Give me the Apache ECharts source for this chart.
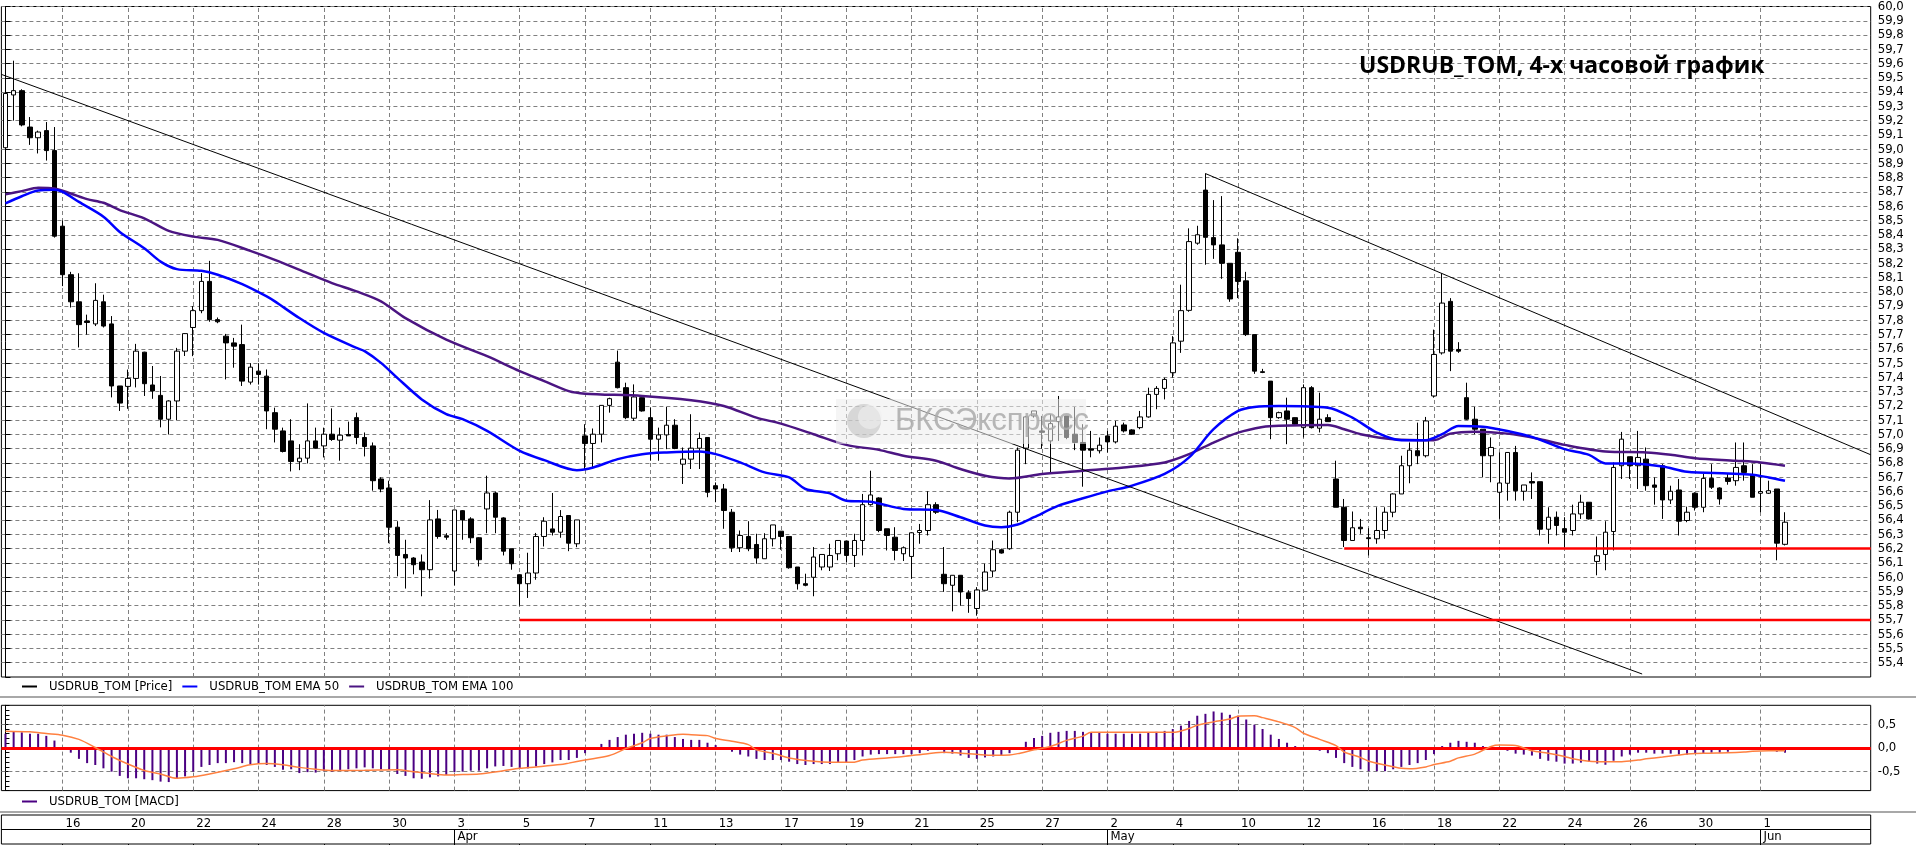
<!DOCTYPE html>
<html><head><meta charset="utf-8">
<script src="https://cdn.jsdelivr.net/npm/echarts@6/dist/echarts.min.js"></script>
<style>html,body{margin:0;padding:0;background:#fff;overflow:hidden}#c{width:1916px;height:845px}</style>
</head><body><div id="c"></div>
<script>
// ---------- DATA ----------
const opens = [
59.01,59.38,59.41,59.155,59.08,59.13,58.99,58.46,58.12,57.93,
57.795,57.775,57.93,57.775,57.34,57.337,57.393,57.577,57.347,57.274,
57.107,57.235,57.584,57.75,57.868,58.073,57.805,57.689,57.642,57.63,
57.367,57.444,57.409,57.153,57.025,56.955,56.809,56.834,56.955,56.92,
57.002,56.96,57.0,57.118,56.979,56.92,56.688,56.625,56.35,56.159,
56.134,56.106,56.052,56.408,56.29,56.043,56.466,56.408,56.276,56.478,
56.59,56.415,56.199,56.017,55.954,56.029,56.285,56.338,56.315,56.432,
56.234,56.99,56.937,57.002,57.204,57.507,57.328,57.114,57.258,57.118,
56.967,56.997,57.065,56.792,56.827,56.904,56.979,56.641,56.618,56.455,
56.206,56.285,56.229,56.129,56.269,56.322,56.285,56.071,55.954,55.999,
56.071,56.071,56.164,56.253,56.152,56.257,56.508,56.555,56.339,56.28,
56.164,56.145,56.313,56.327,56.508,56.02,55.943,56.013,55.89,55.78,
55.908,56.043,56.192,56.199,56.455,56.904,57.13,57.025,56.955,57.09,
57.13,57.002,56.944,56.9,56.886,56.99,56.948,57.067,57.032,57.048,
57.123,57.281,57.323,57.433,57.654,57.87,58.341,58.713,58.38,58.329,
58.2,58.277,58.077,57.70,57.44,57.374,57.118,57.165,57.118,57.048,
57.328,57.044,57.118,56.688,56.49,56.257,56.35,56.276,56.269,56.327,
56.455,56.583,56.781,56.886,56.851,57.27,57.572,57.933,57.596,57.258,
57.107,57.037,56.851,56.595,56.658,56.874,56.602,56.67,56.669,56.336,
56.42,56.34,56.327,56.443,56.525,56.11,56.159,56.32,56.781,56.844,
56.781,56.827,56.646,56.781,56.541,56.611,56.397,56.588,56.49,56.692,
56.625,56.695,56.676,56.781,56.718,56.588,56.588,56.618,56.23];
const closes = [
59.39,59.41,59.17,59.08,59.12,58.99,58.39,58.12,57.93,57.77,
57.785,57.94,57.76,57.34,57.22,57.393,57.584,57.356,57.305,57.107,
57.235,57.584,57.707,57.868,58.073,57.805,57.79,57.642,57.619,57.374,
57.472,57.421,57.165,57.037,56.881,56.811,56.834,56.955,56.904,57.002,
56.965,56.995,56.99,56.979,56.916,56.676,56.618,56.35,56.152,56.134,
56.087,56.052,56.401,56.285,56.28,56.471,56.401,56.276,56.122,56.59,
56.42,56.182,56.094,55.954,56.029,56.285,56.392,56.315,56.425,56.238,
56.401,56.937,57.002,57.204,57.251,57.328,57.118,57.263,57.165,56.967,
56.997,57.065,56.902,56.827,56.904,56.972,56.595,56.618,56.467,56.206,
56.292,56.199,56.134,56.269,56.366,56.285,56.066,55.954,55.943,56.141,
56.159,56.152,56.257,56.152,56.257,56.508,56.576,56.327,56.292,56.187,
56.206,56.311,56.327,56.508,56.455,55.954,56.013,55.896,55.85,55.91,
56.036,56.192,56.169,56.455,56.89,57.123,57.165,57.015,57.076,57.123,
56.979,56.944,56.89,56.89,56.925,56.948,57.058,57.025,57.002,57.123,
57.281,57.323,57.386,57.642,57.868,58.352,58.4,58.382,58.329,58.2,
57.95,58.073,57.70,57.444,57.435,57.118,57.153,57.107,57.072,57.328,
57.048,57.107,57.09,56.49,56.257,56.346,56.339,56.27,56.327,56.455,
56.583,56.781,56.89,56.851,57.095,57.561,57.921,57.584,57.584,57.107,
57.037,56.851,56.909,56.66,56.874,56.606,56.646,56.66,56.336,56.42,
56.362,56.315,56.443,56.525,56.408,56.15,56.315,56.769,56.967,56.781,
56.839,56.641,56.63,56.541,56.602,56.392,56.455,56.49,56.692,56.63,
56.548,56.671,56.769,56.734,56.56,56.6,56.606,56.238,56.385];
const lows = [
58.95,59.20,59.16,59.03,58.97,58.92,58.38,58.04,57.89,57.61,
57.70,57.76,57.75,57.26,57.165,57.18,57.33,57.27,57.25,57.05,
57.0,57.10,57.55,57.549,57.85,57.79,57.78,57.386,57.468,57.34,
57.35,57.35,57.037,56.944,56.874,56.741,56.75,56.797,56.9,56.839,
56.955,56.816,56.99,56.932,56.846,56.606,56.595,56.238,56.006,55.92,
56.02,55.866,55.99,56.269,56.262,55.943,56.262,56.238,56.075,56.308,
56.308,56.152,56.052,55.8,55.854,55.982,56.215,56.292,56.276,56.182,
56.21,56.757,56.769,56.944,57.153,57.323,57.107,57.095,57.16,56.816,
56.816,56.897,56.897,56.653,56.758,56.758,56.56,56.525,56.339,56.176,
56.176,56.182,56.094,56.129,56.215,56.192,56.059,55.913,55.936,55.866,
56.048,56.043,56.118,56.106,56.071,56.152,56.501,56.315,56.187,56.118,
56.113,55.989,56.234,56.292,56.443,55.897,55.76,55.8,55.75,55.73,
55.905,56.0,56.165,56.192,56.385,56.792,57.118,56.90,56.734,56.955,
56.967,56.89,56.634,56.84,56.867,56.874,56.937,57.014,56.997,57.037,
57.118,57.177,57.246,57.398,57.572,57.86,58.33,58.19,58.231,58.091,
57.93,57.956,57.69,57.425,57.43,56.967,57.11,56.932,57.06,56.979,
57.042,57.014,57.09,56.49,56.211,56.257,56.304,56.152,56.234,56.269,
56.42,56.583,56.658,56.792,56.839,57.258,57.56,57.444,57.572,57.102,
57.002,56.7,56.665,56.408,56.536,56.536,56.536,56.548,56.292,56.234,
56.292,56.21,56.292,56.408,56.404,56.013,56.048,56.187,56.688,56.688,
56.618,56.606,56.508,56.408,56.513,56.292,56.385,56.467,56.455,56.618,
56.508,56.648,56.641,56.676,56.56,56.455,56.583,56.118,56.222];
const highs = [
59.47,59.62,59.42,59.225,59.13,59.19,59.155,58.50,58.14,58.13,
57.84,58.06,57.98,57.83,57.34,57.455,57.635,57.58,57.48,57.41,
57.24,57.607,57.71,57.9,58.131,58.217,57.82,57.705,57.677,57.77,
57.5,57.5,57.456,57.188,57.048,57.107,56.932,57.218,57.048,57.048,
57.183,57.048,57.09,57.153,57.014,56.944,56.7,56.676,56.392,56.262,
56.14,56.159,56.54,56.471,56.308,56.471,56.47,56.42,56.28,56.711,
56.6,56.42,56.2,56.02,56.171,56.31,56.42,56.59,56.47,56.435,
56.401,57.072,57.042,57.204,57.258,57.588,57.363,57.351,57.26,57.188,
57.048,57.193,57.107,56.909,57.142,57.014,56.98,56.664,56.653,56.478,
56.327,56.392,56.304,56.308,56.366,56.322,56.285,56.071,56.024,56.211,
56.159,56.234,56.257,56.253,56.304,56.583,56.746,56.56,56.339,56.35,
56.215,56.315,56.373,56.602,56.525,56.211,56.013,56.013,55.908,55.93,
56.094,56.257,56.2,56.466,56.909,57.13,57.165,57.13,57.142,57.27,
57.13,57.193,57.072,57.025,56.979,57.025,57.095,57.083,57.037,57.165,
57.328,57.339,57.398,57.689,58.05,58.445,58.463,58.83,58.643,58.671,
58.2,58.375,58.14,57.70,57.46,57.374,57.16,57.258,57.12,57.351,
57.339,57.293,57.142,56.816,56.548,56.46,56.408,56.343,56.49,56.49,
56.588,56.851,56.944,57.083,57.123,57.735,58.13,57.956,57.647,57.363,
57.193,57.037,56.979,56.874,56.874,56.92,56.646,56.734,56.669,56.49,
56.46,56.42,56.508,56.578,56.525,56.285,56.392,56.804,57.018,56.844,
57.025,56.909,56.699,56.792,56.641,56.688,56.494,56.595,56.723,56.792,
56.63,56.723,56.944,56.944,56.792,56.792,56.676,56.618,56.455];

// EMA samples: [candle index, value]
const ema50 = [[0,58.62],[2,58.67],[4,58.71],[6,58.715],[7,58.70],[9,58.63],[12,58.527],[14,58.42],[17,58.305],[19,58.212],[21,58.159],[24,58.147],[26,58.12],[29,58.054],[32,57.968],[33,57.933],[36,57.816],[39,57.712],[43,57.607],[44,57.584],[46,57.502],[48,57.397],[51,57.246],[54,57.142],[56,57.107],[59,57.025],[63,56.885],[66,56.82],[70,56.75],[72,56.769],[75,56.827],[78,56.862],[81,56.874],[85,56.881],[87,56.862],[90,56.804],[93,56.734],[96,56.699],[98,56.618],[101,56.587],[103,56.536],[106,56.529],[110,56.478],[114,56.471],[117,56.42],[120,56.362],[122,56.35],[124,56.369],[126,56.42],[129,56.501],[132,56.553],[135,56.601],[138,56.641],[142,56.723],[145,56.839],[148,57.037],[151,57.165],[153,57.193],[156,57.2],[162,57.188],[165,57.118],[168,57.013],[171,56.96],[174,56.96],[176,57.002],[178,57.06],[181,57.055],[184,57.025],[187,56.983],[191,56.897],[194,56.857],[196,56.797],[199,56.797],[203,56.776],[206,56.739],[211,56.727],[214,56.718],[216,56.699],[218,56.676]];
const ema100 = [[0,58.683],[2,58.706],[4,58.729],[6,58.724],[8,58.689],[10,58.65],[12,58.624],[14,58.573],[17,58.515],[20,58.427],[23,58.387],[26,58.364],[30,58.287],[33,58.224],[37,58.131],[40,58.061],[43,58.003],[46,57.933],[49,57.816],[54,57.665],[59,57.549],[63,57.444],[66,57.374],[69,57.304],[71,57.286],[78,57.27],[84,57.24],[88,57.2],[92,57.118],[95,57.076],[99,57.002],[103,56.927],[107,56.892],[110,56.851],[114,56.816],[117,56.758],[120,56.711],[123,56.692],[127,56.723],[132,56.746],[137,56.769],[142,56.804],[145,56.862],[148,56.943],[151,57.013],[154,57.053],[156,57.062],[162,57.067],[164,57.037],[166,57.002],[170,56.967],[175,56.96],[177,57.006],[180,57.02],[184,57.006],[188,56.967],[191,56.927],[196,56.881],[201,56.874],[204,56.858],[207,56.834],[212,56.816],[215,56.804],[218,56.781]];

// MACD histogram, one value per candle
const macdHist = [
0.30,0.34,0.33,0.30,0.30,0.255,0.156,0.02,-0.10,-0.23,
-0.32,-0.36,-0.43,-0.50,-0.59,-0.64,-0.64,-0.66,-0.68,-0.71,
-0.72,-0.65,-0.60,-0.50,-0.40,-0.36,-0.32,-0.32,-0.30,-0.32,
-0.35,-0.33,-0.36,-0.40,-0.46,-0.45,-0.53,-0.51,-0.52,-0.49,
-0.50,-0.47,-0.45,-0.43,-0.41,-0.43,-0.45,-0.46,-0.55,-0.59,
-0.64,-0.65,-0.62,-0.60,-0.57,-0.51,-0.50,-0.48,-0.48,-0.43,
-0.39,-0.38,-0.40,-0.44,-0.43,-0.39,-0.34,-0.305,-0.255,-0.255,
-0.21,-0.11,0.0,0.085,0.17,0.23,0.28,0.30,0.32,0.30,
0.28,0.28,0.23,0.19,0.17,0.17,0.11,0.06,0.0,-0.08,
-0.14,-0.18,-0.23,-0.255,-0.255,-0.255,-0.29,-0.34,-0.36,-0.34,
-0.34,-0.34,-0.30,-0.305,-0.255,-0.18,-0.14,-0.13,-0.13,-0.13,
-0.13,-0.13,-0.11,-0.06,-0.035,-0.11,-0.12,-0.16,-0.21,-0.23,
-0.20,-0.18,-0.16,-0.11,0.0,0.13,0.21,0.255,0.32,0.34,
0.36,0.36,0.34,0.32,0.32,0.30,0.30,0.30,0.30,0.30,
0.32,0.34,0.36,0.40,0.47,0.57,0.68,0.72,0.77,0.745,
0.70,0.68,0.60,0.49,0.40,0.28,0.19,0.11,0.04,0.0,
-0.04,-0.06,-0.11,-0.21,-0.32,-0.40,-0.45,-0.49,-0.49,-0.49,
-0.45,-0.40,-0.36,-0.32,-0.255,-0.13,0.04,0.11,0.15,0.13,
0.11,0.04,0.02,-0.035,-0.06,-0.12,-0.14,-0.16,-0.23,-0.27,
-0.29,-0.33,-0.33,-0.31,-0.29,-0.33,-0.355,-0.27,-0.18,-0.14,
-0.10,-0.10,-0.12,-0.12,-0.12,-0.14,-0.14,-0.12,-0.12,-0.10,
-0.10,-0.08,-0.035,-0.015,-0.035,-0.035,-0.035,-0.08,-0.10];
// MACD signal samples: [candle index, value]
const macdSignal = [[0,0.355],[3,0.34],[5,0.305],[7,0.27],[9,0.18],[11,0.01],[13,-0.18],[15,-0.34],[17,-0.475],[19,-0.55],[21,-0.64],[23,-0.61],[25,-0.55],[28,-0.44],[30,-0.355],[32,-0.33],[34,-0.355],[36,-0.41],[38,-0.45],[40,-0.475],[44,-0.47],[48,-0.46],[50,-0.50],[52,-0.54],[54,-0.57],[56,-0.56],[58,-0.55],[61,-0.48],[63,-0.43],[65,-0.40],[68,-0.35],[69,-0.32],[71,-0.255],[74,-0.16],[76,-0.015],[78,0.11],[79,0.20],[81,0.255],[83,0.29],[84,0.28],[86,0.26],[87,0.20],[89,0.14],[91,0.07],[92,-0.04],[94,-0.11],[96,-0.21],[99,-0.28],[101,-0.30],[104,-0.30],[105,-0.255],[108,-0.21],[110,-0.18],[113,-0.12],[115,-0.09],[117,-0.11],[119,-0.135],[121,-0.155],[123,-0.15],[124,-0.12],[126,-0.04],[128,0.03],[130,0.16],[132,0.25],[133,0.33],[143,0.33],[145,0.41],[146,0.48],[148,0.55],[150,0.61],[151,0.67],[153,0.68],[154,0.64],[156,0.55],[158,0.43],[159,0.31],[161,0.18],[163,0.05],[164,-0.085],[166,-0.20],[167,-0.28],[169,-0.36],[171,-0.43],[172,-0.44],[174,-0.40],[175,-0.35],[177,-0.28],[178,-0.21],[180,-0.13],[182,0.03],[183,0.06],[185,0.05],[186,0.0],[187,-0.06],[189,-0.11],[191,-0.18],[192,-0.23],[194,-0.28],[196,-0.29],[198,-0.29],[200,-0.255],[201,-0.23],[203,-0.19],[205,-0.15],[206,-0.13],[208,-0.11],[211,-0.10],[213,-0.085],[214,-0.07],[216,-0.06],[218,-0.06]];

// Trend lines and support levels: [candle index, price]
const trendLine1 = [[-0.5,59.524],[200.5,55.321]];
const trendLine2 = [[147,58.829],[228.5,56.858]];
const support1 = [[63,55.7],[228.5,55.7]];
const support2 = [[164,56.2],[228.5,56.2]];
const lastPrice = 56.385;

// Date axis
const dayTickIndex = [7,15,23,31,39,47,55,63,71,79,87,95,103,111,119,127,135,143,151,159,167,175,183,191,199,207,215];
const dayLabels = ['16','20','22','24','28','30','3','5','7','11','13','17','19','21','25','27','2','4','10','12','16','18','22','24','26','30','1'];
const monthTickIndex = [55,135,215];
const monthLabels = ['Apr','May','Jun'];
const macdGridValues = [0.5,-0.5];
const N_SLOTS = 229;

// ---------- CHART ----------
const NARROW = "'Liberation Sans Narrow','Arial Narrow','DejaVu Sans Condensed',sans-serif";
const categories = Array.from({length: N_SLOTS}, (_, i) => String(i));
const daySet = new Set(dayTickIndex), monthSet = new Set(monthTickIndex);
const dayMap = {}; dayTickIndex.forEach((i, k) => dayMap[i] = dayLabels[k]);
const monthMap = {}; monthTickIndex.forEach((i, k) => monthMap[i] = monthLabels[k]);
const candles = opens.map((o, i) => [o, closes[i], lows[i], highs[i]]);
const GL = 1.4, GW = 1869.3;
const dashed = {color: '#808080', width: 1, type: [4, 3]};
const comma = (v, d) => v.toFixed(d).replace('.', ',');
const near = (a, b) => Math.abs(a - b) < 1e-6;

const chart = echarts.init(document.getElementById('c'), null, {renderer: 'canvas'});
chart.setOption({
  animation: false,
  backgroundColor: '#fff',
  grid: [
    {left: GL, width: GW, top: 4, height: 673, show: true, borderColor: '#000', borderWidth: 1},
    {left: GL, width: GW, top: 705.3, height: 85.3, show: true, borderColor: '#000', borderWidth: 1},
    {left: GL, width: GW, top: 815, height: 29, show: true, borderColor: '#000', borderWidth: 1}
  ],
  xAxis: [
    {gridIndex: 0, type: 'category', data: categories, boundaryGap: true, show: false},
    {gridIndex: 0, type: 'value', min: -0.5, max: N_SLOTS - 0.5, show: false},
    {gridIndex: 1, type: 'category', data: categories, boundaryGap: true, show: false},
    {gridIndex: 1, type: 'value', min: -0.5, max: N_SLOTS - 0.5, show: false},
    {gridIndex: 2, type: 'category', data: categories, position: 'top', boundaryGap: true,
      axisLine: {show: false}, splitLine: {show: false},
      axisTick: {show: true, inside: true, length: 14, alignWithLabel: true, interval: (i) => daySet.has(i), lineStyle: {color: '#000'}},
      axisLabel: {show: true, inside: true, interval: (i) => daySet.has(i), formatter: (v, i) => dayMap[Number(v)] || '',
        align: 'left', verticalAlign: 'top', margin: 2, padding: [0, 0, 0, 3], color: '#000', fontFamily: NARROW, fontSize: 13}},
    {gridIndex: 2, type: 'category', data: categories, position: 'bottom', boundaryGap: true,
      axisLine: {show: false}, splitLine: {show: false},
      axisTick: {show: true, inside: true, length: 15, alignWithLabel: true, interval: (i) => monthSet.has(i), lineStyle: {color: '#000'}},
      axisLabel: {show: true, inside: true, interval: (i) => monthSet.has(i), formatter: (v, i) => monthMap[Number(v)] || '',
        align: 'left', verticalAlign: 'bottom', margin: 1, padding: [0, 0, 0, 3], color: '#000', fontFamily: NARROW, fontSize: 13}}
  ],
  yAxis: [
    {gridIndex: 0, type: 'value', position: 'right', min: 55.3, max: 60.0, interval: 0.1,
      axisLine: {show: true, lineStyle: {color: '#000'}},
      axisTick: {show: true, length: 5, lineStyle: {color: '#000'}},
      axisLabel: {margin: 7, color: '#000', fontFamily: NARROW, fontSize: 13, showMaxLabel: true, showMinLabel: true,
        formatter: (v) => v < 55.35 ? '' : comma(v, 1)},
      splitLine: {show: true, showMinLine: false, lineStyle: dashed}},
    {gridIndex: 1, type: 'value', position: 'right', min: -0.9, max: 0.9, interval: 0.1,
      axisLine: {show: true, lineStyle: {color: '#000'}},
      axisTick: {show: true, length: 4, lineStyle: {color: '#000'}},
      axisLabel: {margin: 7, color: '#000', fontFamily: NARROW, fontSize: 13, showMaxLabel: true, showMinLabel: true,
        formatter: (v) => near(v, 0.5) ? '0,5' : near(v, 0) ? '0,0' : near(v, -0.5) ? '-0,5' : ''},
      splitLine: {show: false}},
    {gridIndex: 2, type: 'value', show: false}
  ],
  legend: [
    {left: 22, top: 680, padding: 0, itemGap: 10, itemWidth: 15, itemHeight: 2, icon: 'rect', selectedMode: false,
      textStyle: {fontFamily: NARROW, fontSize: 13, color: '#000', padding: [0, 0, 0, 7]},
      data: [{name: 'USDRUB_TOM [Price]', itemStyle: {color: '#000', borderWidth: 0}},
             {name: 'USDRUB_TOM EMA 50', itemStyle: {color: '#0000ff', borderWidth: 0}},
             {name: 'USDRUB_TOM EMA 100', itemStyle: {color: '#4b1582', borderWidth: 0}}]},
    {left: 22, top: 795, padding: 0, itemWidth: 15, itemHeight: 2, icon: 'rect', selectedMode: false,
      textStyle: {fontFamily: NARROW, fontSize: 13, color: '#000', padding: [0, 0, 0, 7]},
      data: [{name: 'USDRUB_TOM [MACD]', itemStyle: {color: '#4b0082', borderWidth: 0}}]}
  ],
  series: [
    {name: 'grid-main', type: 'line', xAxisIndex: 1, yAxisIndex: 0, data: [], silent: true,
      markLine: {silent: true, symbol: 'none', z: 1, label: {show: false}, lineStyle: dashed,
        data: dayTickIndex.map(i => ({xAxis: i}))}},
    {name: 'USDRUB_TOM [Price]', type: 'candlestick', xAxisIndex: 0, yAxisIndex: 0, data: candles, barWidth: 5, z: 3,
      itemStyle: {color: '#fff', color0: '#000', borderColor: '#000', borderColor0: '#000', borderColorDoji: '#000', borderWidth: 1},
      markLine: {silent: true, symbol: 'none', z: 10, lineStyle: {opacity: 0},
        label: {show: true, position: 'end', distance: 6, formatter: comma(lastPrice, 3), color: '#000', fontFamily: NARROW, fontSize: 13,
          backgroundColor: '#fff', borderColor: '#000', borderWidth: 1, padding: [1, 2, 0, 2]},
        data: [{yAxis: lastPrice}]}},
    {name: 'USDRUB_TOM EMA 100', type: 'line', xAxisIndex: 1, yAxisIndex: 0, data: ema100, showSymbol: false, smooth: 0.3, z: 4,
      lineStyle: {color: '#4b1582', width: 2.5}, itemStyle: {color: '#4b1582'}},
    {name: 'USDRUB_TOM EMA 50', type: 'line', xAxisIndex: 1, yAxisIndex: 0, data: ema50, showSymbol: false, smooth: 0.3, z: 4,
      lineStyle: {color: '#0000ff', width: 2.5}, itemStyle: {color: '#0000ff'}},
    {name: 'trend1', type: 'line', xAxisIndex: 1, yAxisIndex: 0, data: trendLine1, showSymbol: false, z: 5, lineStyle: {color: '#000', width: 1}},
    {name: 'trend2', type: 'line', xAxisIndex: 1, yAxisIndex: 0, data: trendLine2, showSymbol: false, z: 5, lineStyle: {color: '#000', width: 1}},
    {name: 'support1', type: 'line', xAxisIndex: 1, yAxisIndex: 0, data: support1, showSymbol: false, z: 5, lineStyle: {color: '#ff0000', width: 2.5}},
    {name: 'support2', type: 'line', xAxisIndex: 1, yAxisIndex: 0, data: support2, showSymbol: false, z: 5, lineStyle: {color: '#ff0000', width: 2.5}},
    {name: 'grid-macd', type: 'line', xAxisIndex: 3, yAxisIndex: 1, data: [], silent: true,
      markLine: {silent: true, symbol: 'none', z: 1, label: {show: false}, lineStyle: dashed,
        data: dayTickIndex.map(i => ({xAxis: i})).concat(macdGridValues.map(v => ({yAxis: v})))}},
    {name: 'USDRUB_TOM [MACD]', type: 'bar', xAxisIndex: 2, yAxisIndex: 1, data: macdHist, barWidth: 2, z: 3,
      itemStyle: {color: '#4b0082'},
      markLine: {silent: true, symbol: 'none', z: 6, label: {show: false}, lineStyle: {color: '#ff0000', width: 3, type: 'solid'},
        data: [{yAxis: 0}]}},
    {name: 'Signal', type: 'line', xAxisIndex: 3, yAxisIndex: 1, data: macdSignal, showSymbol: false, smooth: 0.3, z: 7,
      lineStyle: {color: '#ff8040', width: 1.5}}
  ],
  graphic: [
    {type: 'text', left: 1359, top: 55, z: 50,
      style: {text: 'USDRUB_TOM, 4-х часовой график', font: 'bold 23px "Open Sans", sans-serif', fill: '#000'}},
    {type: 'rect', shape: {x: 836, y: 399, width: 250, height: 45}, z: 60, style: {fill: 'rgba(236,236,236,0.55)'}},
    {type: 'circle', shape: {cx: 864, cy: 421, r: 17}, z: 61, style: {fill: 'rgba(190,190,190,0.55)'}},
    {type: 'circle', shape: {cx: 870, cy: 417, r: 12}, z: 62, style: {fill: 'rgba(240,240,240,0.6)'}},
    {type: 'text', x: 895, y: 421, z: 63,
      style: {text: 'БКСЭкспресс', font: '31px "Liberation Sans", Arial, sans-serif', fill: 'rgba(170,170,170,0.85)', verticalAlign: 'middle', align: 'left'}},
    {type: 'line', shape: {x1: 0, y1: 697, x2: 1916, y2: 697}, z: 50, style: {stroke: '#a8a8a8', lineWidth: 2}},
    {type: 'line', shape: {x1: 0, y1: 812, x2: 1916, y2: 812}, z: 50, style: {stroke: '#a8a8a8', lineWidth: 2}},
    {type: 'line', shape: {x1: GL, y1: 829.5, x2: GL + GW, y2: 829.5}, z: 50, style: {stroke: '#000', lineWidth: 1}}
  ]
});
</script>
</body></html>
